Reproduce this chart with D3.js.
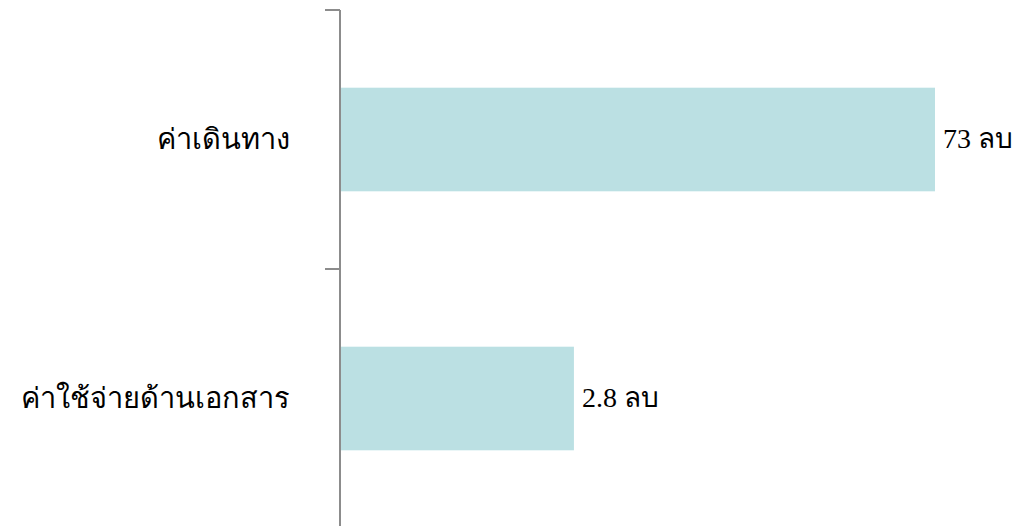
<!DOCTYPE html>
<meta charset="utf-8">
<html>

<head>
  <script src="https://d3js.org/d3.v7.min.js" charset="utf-8"></script>
  <style>
    body {
      margin: 0;
      background-color: white;
    }

    text {
      font-family: 'Liberation Serif', 'DejaVu Serif', serif;
      fill: #000;
    }

    .y-axis text {
      font-size: 29px;
    }

    .y-axis path {
      stroke-width: 0;
    }

    .frame line {
      stroke: #8c8c8c;
      stroke-width: 2;
    }

    .value-label {
      font-size: 28px;
    }
  </style>
</head>

<body>
  <script>
    //Data
    var categories = ['ค่าเดินทาง', 'ค่าใช้จ่ายด้านเอกสาร'];
    var values = [73, 28.7];
    var valueLabels = ['73 ลบ', '2.8 ลบ'];

    //Sizes
    var W = 1026,
      H = 526;
    var axisX = 340;

    var svg = d3.select('body')
      .append('svg')
      .attr('width', W)
      .attr('height', H);

    //Y scale (bands)
    var y = d3.scaleBand()
      .domain(categories)
      .range([10, 528])
      .paddingInner(0.6)
      .paddingOuter(0.3);

    //X scale
    var x = d3.scaleLinear()
      .domain([0, 73])
      .range([axisX, 935]);

    //Bars
    svg.selectAll('rect.bar')
      .data(values)
      .enter()
      .append('rect')
      .attr('class', 'bar')
      .attr('x', x(0))
      .attr('y', (d, i) => y(categories[i]))
      .attr('width', d => x(d) - x(0))
      .attr('height', y.bandwidth())
      .attr('fill', '#bbe0e3');

    //Axis line and boundary ticks
    var half = y.step() * y.paddingInner() / 2;
    var bounds = categories.map(c => y(c) - half);
    bounds.push(y(categories[categories.length - 1]) + y.bandwidth() + half);

    var frame = svg.append('g').attr('class', 'frame');
    frame.append('line')
      .attr('x1', axisX).attr('x2', axisX)
      .attr('y1', bounds[0]).attr('y2', bounds[bounds.length - 1]);
    frame.selectAll('line.tick')
      .data(bounds)
      .enter()
      .append('line')
      .attr('class', 'tick')
      .attr('x1', axisX - 15).attr('x2', axisX)
      .attr('y1', d => d).attr('y2', d => d);

    //Category labels
    svg.append('g')
      .attr('class', 'y-axis')
      .attr('transform', `translate(${axisX}, 0)`)
      .call(d3.axisLeft(y).tickSize(0).tickPadding(50))
      .call(g => g.select('.domain').remove());

    //Value labels
    svg.selectAll('text.value-label')
      .data(values)
      .enter()
      .append('text')
      .attr('class', 'value-label')
      .attr('x', d => x(d) + 8)
      .attr('y', (d, i) => y(categories[i]) + y.bandwidth() / 2)
      .attr('dy', '0.32em')
      .text((d, i) => valueLabels[i]);
  </script>
</body>

</html>
